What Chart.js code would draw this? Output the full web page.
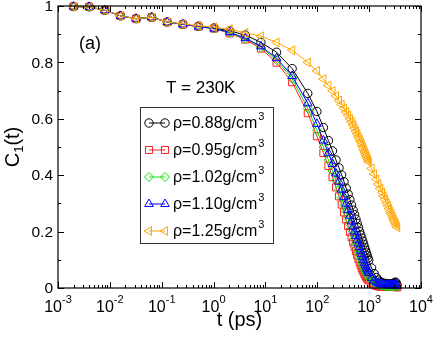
<!DOCTYPE html>
<html>
<head>
<meta charset="utf-8">
<script src="https://cdn.jsdelivr.net/npm/chart.js@4.4.1/dist/chart.umd.min.js"></script>
<style>
html,body{margin:0;padding:0;background:#fff;}
#wrap{width:436px;height:338px;position:relative;}
</style>
</head>
<body>
<div id="wrap"><canvas id="c" width="436" height="338"></canvas></div>
<script>
// time (ps)
const T = [0.002,0.004,0.008,0.016,0.032,0.064,0.128,0.256,0.512,1.024,2.048,4.096,8.192,16.384,32.768,
65.536,98.304,131.072,163.84,196.608,229.376,262.144,
294.912,327.68,360.448,393.216,425.984,458.752,491.52,524.288,557.056,589.824,622.592,655.36,688.128,720.896,753.664,786.432,819.2,851.968,884.736,917.504,950.272,983.04,
1114.112,1245.184,1376.256,1507.328,1638.4,1769.472,1900.544,2031.616,2162.688,2293.76,2424.832,2555.904,2686.976,2818.048,2949.12,3080.192,3211.264,3342.336,3473.408];

const C088 = [0.998,0.997,0.985,0.965,0.955,0.960,0.943,0.935,0.928,0.922,0.912,0.897,0.871,0.836,0.778,
0.690,0.626,0.569,0.523,0.486,0.454,0.426,
0.401,0.377,0.354,0.333,0.313,0.294,0.276,0.260,0.244,0.229,0.214,0.200,0.188,0.177,0.166,0.155,0.144,0.134,0.124,0.115,0.106,0.098,
0.071,0.051,0.037,0.028,0.022,0.019,0.017,0.016,0.015,0.014,0.014,0.014,0.014,0.015,0.016,0.018,0.021,0.018,0.010];

const C095 = [0.998,0.997,0.985,0.965,0.955,0.960,0.943,0.935,0.927,0.920,0.903,0.881,0.849,0.799,0.730,
0.620,0.538,0.479,0.433,0.393,0.357,0.325,
0.296,0.268,0.243,0.220,0.199,0.180,0.162,0.146,0.131,0.116,0.103,0.091,0.080,0.070,0.062,0.055,0.049,0.043,0.038,0.034,0.030,0.027,
0.018,0.012,0.008,0.006,0.005,0.004,0.004,0.004,0.004,0.004,0.004,0.004,0.004,0.004,0.004,0.005,0.006,0.005,0.002];

const C102 = [0.998,0.997,0.985,0.965,0.955,0.960,0.943,0.935,0.927,0.920,0.905,0.884,0.854,0.808,0.742,
0.637,0.559,0.500,0.454,0.415,0.381,0.350,
0.321,0.294,0.270,0.247,0.226,0.206,0.189,0.172,0.157,0.142,0.128,0.115,0.103,0.092,0.083,0.074,0.066,0.059,0.053,0.047,0.042,0.037,
0.026,0.019,0.015,0.012,0.010,0.009,0.008,0.008,0.007,0.007,0.007,0.007,0.007,0.007,0.007,0.008,0.009,0.008,0.004];

const C110 = [0.998,0.997,0.985,0.965,0.955,0.960,0.943,0.935,0.927,0.920,0.907,0.886,0.857,0.815,0.752,
0.655,0.582,0.523,0.478,0.440,0.406,0.377,
0.349,0.323,0.299,0.276,0.256,0.236,0.218,0.200,0.185,0.171,0.158,0.145,0.132,0.120,0.109,0.098,0.089,0.081,0.073,0.066,0.059,0.053,
0.036,0.026,0.020,0.017,0.015,0.013,0.012,0.011,0.010,0.010,0.010,0.010,0.010,0.010,0.011,0.012,0.014,0.012,0.007];

const C125 = [0.998,0.997,0.985,0.965,0.955,0.960,0.943,0.937,0.930,0.925,0.918,0.905,0.893,0.871,0.843,
0.800,0.770,0.741,0.718,0.699,0.681,0.665,
0.651,0.637,0.624,0.612,0.600,0.589,0.578,0.567,0.556,0.546,0.536,0.527,0.518,0.509,0.500,0.491,0.483,0.475,0.468,0.461,0.454,0.447,
0.424,0.404,0.385,0.368,0.353,0.339,0.326,0.314,0.302,0.292,0.281,0.271,0.262,0.254,0.245,0.237,0.230,0.223,0.215];

const seriesLabels = ['ρ=0.88g/cm','ρ=0.95g/cm','ρ=1.02g/cm','ρ=1.10g/cm','ρ=1.25g/cm'];
const yTickValues = [0,0.2,0.4,0.6,0.8,1];
const yTickLabels = ['0','0.2','0.4','0.6','0.8','1'];
const xDecades = [-3,-2,-1,0,1,2,3,4];

const FONT = '"Liberation Sans", Arial, Helvetica, sans-serif';

function pts(vals){ return T.map((t,i)=>({x:t,y:vals[i]})); }

const styles = [
  {color:'#000000', pointStyle:'circle', radius:4.2, rotation:0, order:4},
  {color:'#ff2020', pointStyle:'rect', radius:5, rotation:0, order:3},
  {color:'#10e010', pointStyle:'rectRot', radius:4.5, rotation:0, order:2},
  {color:'#0000ff', pointStyle:'triangle', radius:5, rotation:0, order:1},
  {color:'#ffa500', pointStyle:'triangle', radius:5, rotation:-90, order:0}
];
const seriesData = [C088, C095, C102, C110, C125];

const datasets = seriesData.map((v,i)=>({
  label: seriesLabels[i],
  data: pts(v),
  borderColor: styles[i].color,
  backgroundColor: 'rgba(0,0,0,0)',
  pointBorderColor: styles[i].color,
  pointBackgroundColor: 'rgba(0,0,0,0)',
  pointStyle: styles[i].pointStyle,
  pointRadius: styles[i].radius,
  pointRotation: styles[i].rotation,
  pointBorderWidth: 1,
  borderWidth: 1,
  fill: false,
  tension: 0,
  clip: false,
  order: styles[i].order
}));

const decor = {
  id: 'decor',
  afterDraw(chart){
    const ctx = chart.ctx, a = chart.chartArea;
    const xs = chart.scales.x, ys = chart.scales.y;
    ctx.save();
    // frame
    ctx.strokeStyle = '#000'; ctx.lineWidth = 1.2;
    ctx.strokeRect(a.left, a.top, a.right - a.left, a.bottom - a.top);
    ctx.lineWidth = 1;
    ctx.beginPath();
    // x ticks
    xDecades.forEach(d=>{
      const px = Math.round(xs.getPixelForValue(Math.pow(10,d))) + 0.5;
      ctx.moveTo(px, a.bottom); ctx.lineTo(px, a.bottom - 6);
      ctx.moveTo(px, a.top); ctx.lineTo(px, a.top + 6);
      if (d < 4) {
        for (let k=2;k<=9;k++){
          const p = Math.round(xs.getPixelForValue(k*Math.pow(10,d))) + 0.5;
          ctx.moveTo(p, a.bottom); ctx.lineTo(p, a.bottom - 3);
          ctx.moveTo(p, a.top); ctx.lineTo(p, a.top + 3);
        }
      }
    });
    // y ticks
    for (let j=0;j<=10;j++){
      const v = j/10;
      const py = Math.round(ys.getPixelForValue(v)) + 0.5;
      const len = (j%2===0) ? 6 : 3;
      ctx.moveTo(a.left, py); ctx.lineTo(a.left + len, py);
      ctx.moveTo(a.right, py); ctx.lineTo(a.right - len, py);
    }
    ctx.stroke();

    // y tick labels
    ctx.fillStyle = '#000';
    ctx.font = '15.5px ' + FONT;
    ctx.textAlign = 'right'; ctx.textBaseline = 'middle';
    yTickValues.forEach((v,i)=>{
      ctx.fillText(yTickLabels[i], a.left - 5, ys.getPixelForValue(v) + 1);
    });
    // x tick labels: 10^d
    xDecades.forEach(d=>{
      const px = xs.getPixelForValue(Math.pow(10,d));
      const base = '10', exp = String(d);
      ctx.font = '16px ' + FONT;
      const wb = ctx.measureText(base).width;
      ctx.font = '11px ' + FONT;
      const we = ctx.measureText(exp).width;
      const x0 = px - (wb + we)/2;
      ctx.textAlign = 'left'; ctx.textBaseline = 'alphabetic';
      ctx.font = '16px ' + FONT;
      ctx.fillText(base, x0, 311.5);
      ctx.font = '11px ' + FONT;
      ctx.fillText(exp, x0 + wb, 303);
    });
    // x title
    ctx.font = '20px ' + FONT;
    ctx.textAlign = 'center'; ctx.textBaseline = 'alphabetic';
    ctx.fillText('t (ps)', (a.left + a.right)/2, 326);
    // y title C1(t)
    ctx.save();
    ctx.translate(19, (a.top + a.bottom)/2);
    ctx.rotate(-Math.PI/2);
    ctx.font = '20px ' + FONT;
    const wC = ctx.measureText('C').width;
    ctx.font = '13px ' + FONT;
    const w1 = ctx.measureText('1').width;
    ctx.font = '20px ' + FONT;
    const wT = ctx.measureText('(t)').width;
    let sx = -(wC + w1 + wT)/2;
    ctx.textAlign = 'left';
    ctx.fillText('C', sx, 0);
    ctx.font = '13px ' + FONT;
    ctx.fillText('1', sx + wC, 4);
    ctx.font = '20px ' + FONT;
    ctx.fillText('(t)', sx + wC + w1, 0);
    ctx.restore();

    // annotations
    ctx.textAlign = 'left'; ctx.textBaseline = 'alphabetic';
    ctx.font = '18px ' + FONT;
    ctx.fillText('(a)', 79, 49);
    ctx.font = '17px ' + FONT;
    ctx.fillText('T = 230K', 166, 93);

    // legend
    const lx = 140.5, ly = 107.5, lw = 133, lh = 136;
    ctx.fillStyle = '#fff';
    ctx.fillRect(lx, ly, lw, lh);
    ctx.strokeStyle = '#333'; ctx.lineWidth = 1;
    ctx.strokeRect(lx, ly, lw, lh);
    const rows = [123, 150, 177, 204, 231];
    styles.forEach((s,i)=>{
      const y = rows[i];
      ctx.strokeStyle = s.color; ctx.lineWidth = 1;
      ctx.beginPath(); ctx.moveTo(149, y); ctx.lineTo(165, y); ctx.stroke();
      ctx.fillStyle = 'rgba(0,0,0,0)';
      [149,165].forEach(px=>{
        Chart.helpers.drawPoint(ctx, {pointStyle:s.pointStyle, radius:s.radius, rotation:s.rotation, borderWidth:1}, px, y);
      });
      ctx.fillStyle = '#000';
      ctx.font = '16px ' + FONT;
      ctx.textBaseline = 'middle'; ctx.textAlign = 'left';
      ctx.fillText(seriesLabels[i], 173, y + 1);
      const w = ctx.measureText(seriesLabels[i]).width;
      ctx.font = '11px ' + FONT;
      ctx.fillText('3', 173 + w + 1, y - 6);
    });
    ctx.restore();
  }
};

new Chart(document.getElementById('c'), {
  type: 'line',
  data: { datasets },
  options: {
    responsive: false,
    animation: false,
    events: [],
    layout: { padding: { top: 6, right: 15, left: 0, bottom: 0 } },
    plugins: { legend: { display: false }, tooltip: { enabled: false } },
    scales: {
      x: { type: 'logarithmic', min: 0.001, max: 10000,
           ticks: { display: false }, grid: { display: false }, border: { display: false },
           afterFit(s){ s.height = 50; } },
      y: { type: 'linear', min: 0, max: 1,
           ticks: { display: false }, grid: { display: false }, border: { display: false },
           afterFit(s){ s.width = 58; } }
    }
  },
  plugins: [decor]
});
</script>
</body>
</html>
